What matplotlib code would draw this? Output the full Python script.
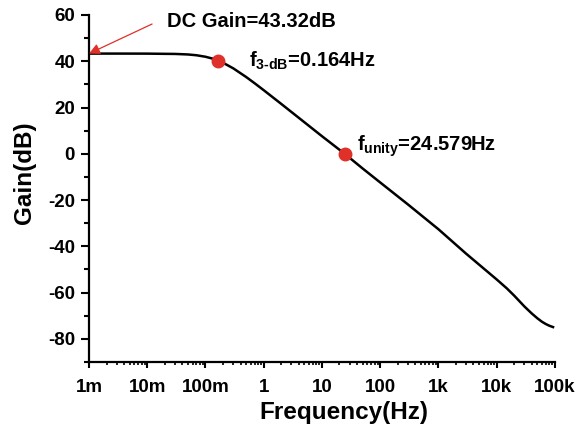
import matplotlib
matplotlib.use("Agg")
import matplotlib.pyplot as plt
from matplotlib.ticker import FixedLocator, LogLocator, MultipleLocator, NullFormatter

plt.rcParams['font.family'] = ['Liberation Sans', 'DejaVu Sans']
plt.rcParams['font.weight'] = 'bold'
plt.rcParams['axes.unicode_minus'] = False
plt.rcParams['mathtext.fontset'] = 'custom'
plt.rcParams['mathtext.rm'] = 'Liberation Sans:bold'
plt.rcParams['mathtext.it'] = 'Liberation Sans:bold'
plt.rcParams['mathtext.bf'] = 'Liberation Sans:bold'

# Data
freq = [1e-3, 3e-3, 1e-2, 2e-2, 3e-2, 5e-2, 7e-2, 0.1, 0.13, 0.164, 0.2, 0.3,
        0.5, 0.7, 1, 2, 5, 10, 24.579, 50, 100, 300, 1000, 3000, 1e4, 1.5e4,
        2e4, 3e4, 4e4, 5e4, 6e4, 7e4, 8e4, 9.3e4]
gain = [43.32, 43.32, 43.30, 43.21, 43.17, 42.94, 42.60, 41.95, 41.2, 40.32,
        39.36, 36.94, 33.19, 30.48, 27.50, 21.57, 13.63, 7.62, 0.0, -6.35,
        -12.38, -21.9, -32.6, -43.2, -54.3, -58.2, -61.3, -66.0, -69.0,
        -71.1, -72.6, -73.6, -74.3, -74.9]

f3db, g3db = 0.164, 40.32
funity, gunity = 24.579, 0.0
dc_gain = 43.32

xticks = [1e-3, 1e-2, 1e-1, 1, 10, 100, 1e3, 1e4, 1e5]
xticklabels = ['1m', '10m', '100m', '1', '10', '100', '1k', '10k', '100k']
yticks = [-80, -60, -40, -20, 0, 20, 40, 60]

fig = plt.figure(figsize=(5.78, 4.36), dpi=100)
ax = fig.add_axes([0.154, 0.1697, 0.806, 0.7959])

ax.plot(freq, gain, color='black', lw=1.8, zorder=3)
red = '#e0302a'
ax.plot([f3db, funity], [g3db, gunity], 'o', color=red, ms=9, zorder=4)

ax.set_xscale('log')
ax.set_xlim(1e-3, 1e5)
ax.set_ylim(-90, 60)

ax.xaxis.set_major_locator(FixedLocator(xticks))
ax.set_xticklabels(xticklabels)
ax.xaxis.set_minor_locator(LogLocator(base=10, subs=range(2, 10), numticks=50))
ax.xaxis.set_minor_formatter(NullFormatter())
ax.yaxis.set_major_locator(FixedLocator(yticks))
ax.yaxis.set_minor_locator(MultipleLocator(10))

for s in ['top', 'right']:
    ax.spines[s].set_visible(False)
for s in ['left', 'bottom']:
    ax.spines[s].set_linewidth(1.6)

ax.tick_params(axis='both', which='major', direction='out', width=1.5, labelsize=13.5)
ax.tick_params(axis='y', which='major', length=6, pad=4)
ax.tick_params(axis='x', which='major', length=4, pad=8)
ax.tick_params(axis='y', which='minor', direction='out', length=3.5, width=1.5)
ax.tick_params(axis='x', which='minor', direction='out', length=2.5, width=1.2)

for lab in ax.get_xticklabels() + ax.get_yticklabels():
    lab.set_fontweight('bold')

ax.set_xlabel('Frequency(Hz)', fontsize=17.5, fontweight='bold')
ax.set_ylabel('Gain(dB)', fontsize=17.5, fontweight='bold')
ax.xaxis.set_label_coords(0.546, -0.112)
ax.yaxis.set_label_coords(-0.114, 0.545)

ax.annotate('', xy=(1e-3, dc_gain), xytext=(0.0121, 56.1),
            arrowprops=dict(arrowstyle='-|>', color=red, lw=0.9,
                            mutation_scale=16, shrinkA=0, shrinkB=0))
ax.text(0.0218, 57.2, 'DC Gain=43.32dB', fontsize=14.5, fontweight='bold',
        va='center', ha='left')

ax.text(0.56, 37.8, r'$f_{3\text{-}dB}$=0.164Hz', fontsize=14.5, fontweight='bold',
        va='baseline', ha='left')
ax.text(39.8, 1.3, r'$f_{unity}$=24.579Hz', fontsize=14.5, fontweight='bold',
        va='baseline', ha='left')

fig.savefig('out.png', dpi=100)
